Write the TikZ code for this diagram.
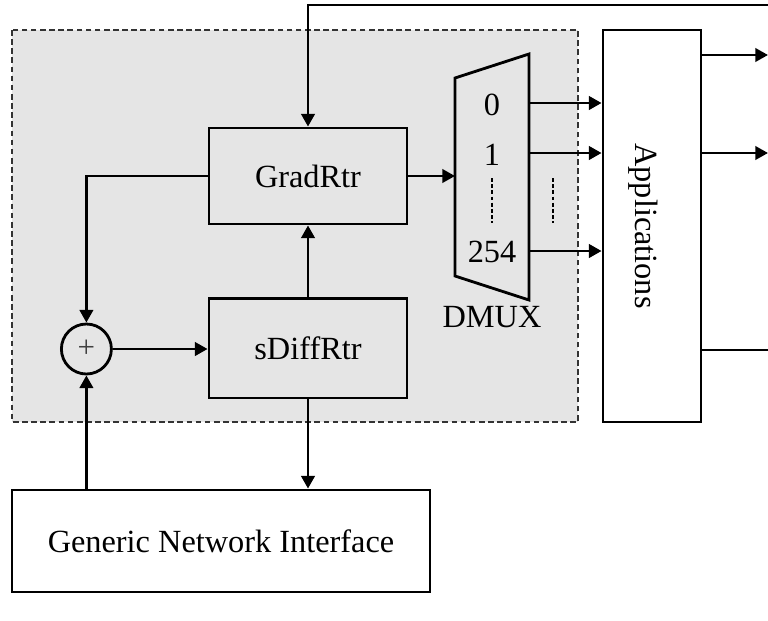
\documentclass[tikz,border=0pt]{standalone}
\usepackage{fontspec}
\setmainfont{Liberation Serif}
\usetikzlibrary{arrows.meta}

\begin{document}
\begin{tikzpicture}[
    block/.style={draw=black, line width=2pt,
                  minimum width=4.95cm, minimum height=2.4cm,
                  font=\fontsize{23}{27}\selectfont},
    sum/.style={circle, draw=black, line width=2pt,
                minimum size=1.25cm, inner sep=0pt,
                font=\fontsize{22}{26}\selectfont, text=black!75},
    wire/.style={line width=2pt},
    sig/.style={wire, -{Triangle[length=9pt, width=9.5pt]}},
    dots/.style={line width=1.8pt, dash pattern=on 2.8pt off 1.6pt},
    portnum/.style={font=\fontsize{23}{27}\selectfont},
    region/.style={fill=black!10, draw=black!80, line width=0.9pt,
                   dash pattern=on 4pt off 2.5pt},
]
\useasboundingbox (0,0) rectangle (19.2,-15.5);

% Router region (drawn first, behind)
\draw[region] (0.3,-0.75) rectangle (14.45,-10.55);

% Nodes
\node[block] (grad) at (7.7,-4.4) {GradRtr};
\node[block, minimum height=2.475cm] (sdiff) at (7.7,-8.71) {sDiffRtr};
\node[sum] (plus) at (2.16,-8.725) {+};
\node[block, minimum width=10.45cm, minimum height=2.55cm]
     (gni) at (5.525,-13.525) {Generic Network Interface};
\node[draw, wire, minimum width=2.45cm, minimum height=9.8cm]
     (app) at (16.3,-5.65) {};
\node[portnum, rotate=-90] (app-lbl) at (16.08,-5.65) {Applications};

% Demultiplexer (trapezoid)
\coordinate (dm-w)  at (11.375,-4.4);
\coordinate (dm-o0) at (13.225,-2.575);
\coordinate (dm-o1) at (13.225,-3.825);
\coordinate (dm-o2) at (13.225,-6.275);
\draw[wire, line join=miter] (11.375,-1.95) -- (13.225,-1.35)
     -- (13.225,-7.5) -- (11.375,-6.9) -- cycle;
\node[portnum] (p0)   at (12.3,-2.625) {0};
\node[portnum] (p1)   at (12.3,-3.875) {1};
\node[portnum] (p254) at (12.3,-6.3)   {254};
\node[portnum] (dmux) at (12.3,-7.925) {DMUX};
\draw[dots] (12.3,-4.45)  -- (12.3,-5.575);
\draw[dots] (13.825,-4.45) -- (13.825,-5.575);

% Outer terminals
\coordinate (fb)   at (19.2,-0.125);
\coordinate (out0) at (19.2,-1.375);
\coordinate (out1) at (19.2,-3.825);
\coordinate (out2) at (19.2,-8.75);

% Connections
\draw[sig] (fb) -- (fb -| grad.north) -- (grad.north);
\draw[sig] (grad.west) -| (plus.north);
\draw[sig] (plus.east) -- (plus.east -| sdiff.west);
\draw[sig] (sdiff.north) -- (grad.south);
\draw[sig] (sdiff.south) -- (sdiff.south |- gni.north);
\draw[sig] (plus.south |- gni.north) -- (plus.south);
\draw[sig] (grad.east) -- (dm-w);
\draw[sig] (dm-o0) -- (dm-o0 -| app.west);
\draw[sig] (dm-o1) -- (dm-o1 -| app.west);
\draw[sig] (dm-o2) -- (dm-o2 -| app.west);
\draw[sig] (out0 -| app.east) -- (out0);
\draw[sig] (out1 -| app.east) -- (out1);
\draw[wire] (out2 -| app.east) -- (out2);

\end{tikzpicture}
\end{document}
